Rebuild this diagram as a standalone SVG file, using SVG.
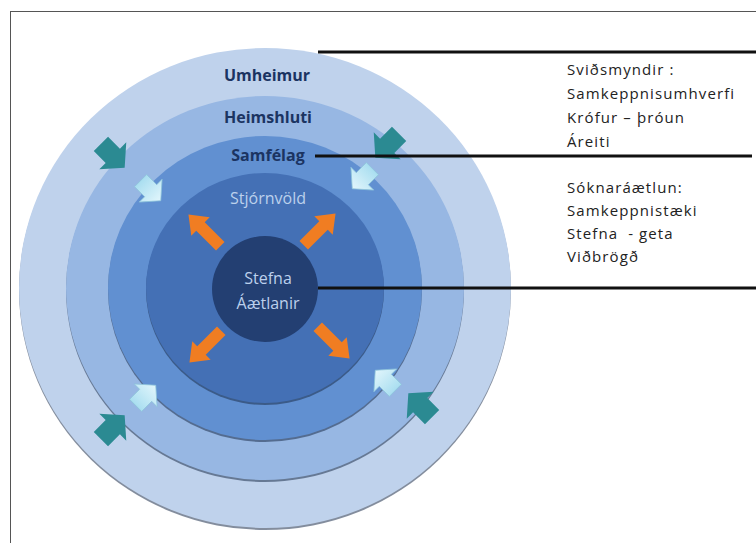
<svg xmlns="http://www.w3.org/2000/svg" width="756" height="543" viewBox="0 0 756 543">
<style>
.shadow{fill:#1d2f4d;opacity:.55}
.lbl{font-family:"Open Sans","Liberation Sans",sans-serif;font-size:16px;font-weight:700;text-anchor:middle}
.dark{fill:#1b3462}
.light{fill:#bcd0ec;font-weight:400}
.side{font-family:"Open Sans","Liberation Sans",sans-serif;font-size:15px;fill:#222;letter-spacing:1.1px;white-space:pre}
.teal{fill:#2b8a92}
.pale{fill:url(#paleGrad);stroke:#8cc3da;stroke-width:.8}
.orange{fill:#f07d22}
.conn{stroke:#111;stroke-width:3;fill:none}
</style>
<defs>
<linearGradient id="paleGrad" x1="0" y1="0" x2="1" y2="0">
<stop offset="0" stop-color="#a9def0"/>
<stop offset="1" stop-color="#e2f6fc"/>
</linearGradient>
<path id="blk" d="M-14,-9 L1,-9 L1,-17 L16,0 L1,17 L1,9 L-14,9 Z"/>
<path id="orr" d="M-23,-6 L5,-6 L5,-13 L22,0 L5,13 L5,6 L-23,6 Z"/>
</defs>
<rect x="10.5" y="11.5" width="760" height="545" fill="#fff" stroke="#555" stroke-width="1"/>

<g id="umheimur">
<ellipse class="shadow" cx="265" cy="290" rx="246" ry="240"/>
<ellipse cx="265" cy="288" rx="246" ry="240" fill="#bfd2ec"/>
<text class="lbl dark" x="267" y="81">Umheimur</text>
</g>
<g id="heimshluti">
<ellipse class="shadow" cx="265" cy="290" rx="199" ry="192"/>
<ellipse cx="265" cy="288" rx="199" ry="192" fill="#97b7e3"/>
<text class="lbl dark" x="268" y="123">Heimshluti</text>
</g>
<g id="samfelag">
<ellipse class="shadow" cx="265" cy="290" rx="157" ry="152"/>
<ellipse cx="265" cy="288" rx="157" ry="152" fill="#6190d1"/>
<text class="lbl dark" x="268" y="161">Samfélag</text>
</g>
<g id="stjornvold">
<ellipse class="shadow" cx="265" cy="290" rx="119" ry="115"/>
<ellipse cx="265" cy="288" rx="119" ry="115" fill="#4470b5"/>
<text class="lbl light" x="268" y="204">Stjórnvöld</text>
</g>
<g id="stefna">
<ellipse cx="265" cy="289" rx="53" ry="53" fill="#233f72"/>
<text class="lbl light" x="268" y="284" fill="#c7d6ee">Stefna</text>
<text class="lbl light" x="268" y="309" fill="#c7d6ee">Áætlanir</text>
</g>

<g id="arrows">
<use href="#blk" class="teal" transform="translate(112,155) rotate(45) scale(1.12)"/>
<use href="#blk" class="pale" transform="translate(150,190) rotate(45) scale(.95)"/>
<use href="#blk" class="teal" transform="translate(388,145) rotate(135) scale(1.12)"/>
<use href="#blk" class="pale" transform="translate(363,178) rotate(135) scale(.95)"/>
<use href="#blk" class="pale" transform="translate(145,396) rotate(-45) scale(.95)"/>
<use href="#blk" class="teal" transform="translate(112,428) rotate(-45) scale(1.12)"/>
<use href="#blk" class="pale" transform="translate(386,381) rotate(-135) scale(.95)"/>
<use href="#blk" class="teal" transform="translate(421,406) rotate(-135) scale(1.12)"/>
<use href="#orr" class="orange" transform="translate(204,230) rotate(-135)"/>
<use href="#orr" class="orange" transform="translate(320,229) rotate(-45)"/>
<use href="#orr" class="orange" transform="translate(205,347) rotate(135)"/>
<use href="#orr" class="orange" transform="translate(334,343) rotate(45)"/>
</g>

<g id="connectors">
<line class="conn" x1="318" y1="52" x2="756" y2="52"/>
<line class="conn" x1="315" y1="156" x2="752" y2="156"/>
<line class="conn" x1="318" y1="288" x2="756" y2="288"/>
</g>

<g id="sidetext1">
<text class="side" x="567" y="75">Sviðsmyndir :</text>
<text class="side" x="567" y="99">Samkeppnisumhverfi</text>
<text class="side" x="567" y="123">Krófur – þróun</text>
<text class="side" x="567" y="147">Áreiti</text>
</g>
<g id="sidetext2">
<text class="side" x="567" y="193">Sóknaráætlun:</text>
<text class="side" x="567" y="216">Samkeppnistæki</text>
<text class="side" x="567" y="239">Stefna  - geta</text>
<text class="side" x="567" y="262">Viðbrögð</text>
</g>
</svg>
